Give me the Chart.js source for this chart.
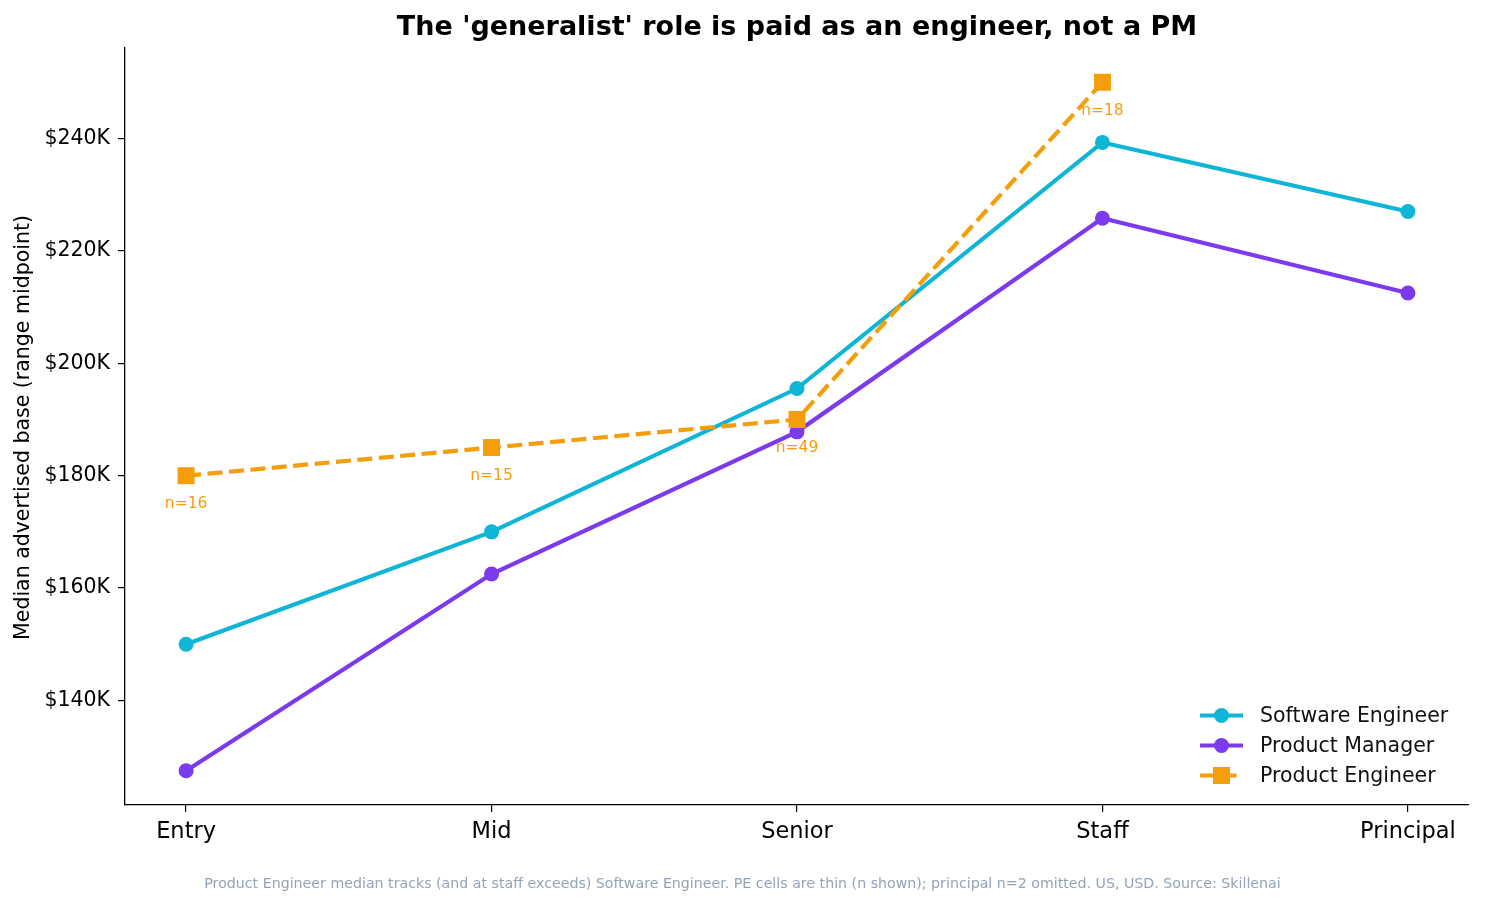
<!DOCTYPE html>
<html>
<head>
<meta charset="utf-8">
<script src="https://cdn.jsdelivr.net/npm/chart.js@4.4.1/dist/chart.umd.min.js"></script>
<style>
  html, body { margin: 0; padding: 0; background: #fff; }
  #wrap { width: 1485px; height: 906px; }
</style>
</head>
<body>
<div id="wrap"><canvas id="chart" width="1485" height="906"></canvas></div>
<script>
const levels = ['Entry', 'Mid', 'Senior', 'Staff', 'Principal'];
const softwareEngineer = [150000, 170000, 195500, 239300, 227000];
const productManager = [127500, 162500, 187800, 225800, 212500];
const productEngineer = [180000, 185000, 190000, 250000, null];
const productEngineerN = [16, 15, 49, 18, null];
const yTicks = [140000, 160000, 180000, 200000, 220000, 240000];

const FONT = '"DejaVu Sans", "Liberation Sans", sans-serif';
const colors = { se: '#0fb5d5', pm: '#7c3aed', pe: '#f59e0b' };

const toPoints = arr => arr.map((v, i) => ({ x: i, y: v }));

// title, y label, n= notes, legend, footnote
const decorations = {
  id: 'decorations',
  afterDatasetsDraw(chart) {
    const { ctx, scales } = chart;
    const x = scales.x, y = scales.y;

    // n= annotations under the Product Engineer markers
    ctx.save();
    ctx.fillStyle = colors.pe;
    ctx.font = '15.5px ' + FONT;
    ctx.textAlign = 'center';
    ctx.textBaseline = 'middle';
    productEngineerN.forEach((n, i) => {
      if (n == null) return;
      ctx.fillText('n=' + n, x.getPixelForValue(i), y.getPixelForValue(productEngineer[i]) + 28.5);
    });
    ctx.restore();

    // legend, lower right, no frame
    const items = [
      { label: 'Software Engineer', color: colors.se, dash: [], shape: 'circle' },
      { label: 'Product Manager', color: colors.pm, dash: [], shape: 'circle' },
      { label: 'Product Engineer', color: colors.pe, dash: [15, 6.5], shape: 'square' }
    ];
    ctx.save();
    items.forEach((it, k) => {
      const cy = 715.5 + k * 30;
      ctx.strokeStyle = it.color;
      ctx.fillStyle = it.color;
      ctx.lineWidth = 4.2;
      ctx.setLineDash(it.dash);
      ctx.beginPath();
      ctx.moveTo(1200, cy);
      ctx.lineTo(1243, cy);
      ctx.stroke();
      ctx.setLineDash([]);
      if (it.shape === 'circle') {
        ctx.beginPath();
        ctx.arc(1221.5, cy, 7.5, 0, Math.PI * 2);
        ctx.fill();
      } else {
        ctx.fillRect(1213, cy - 8.5, 17, 17);
      }
      ctx.fillStyle = '#111';
      ctx.font = '20.5px ' + FONT;
      ctx.textAlign = 'left';
      ctx.textBaseline = 'middle';
      ctx.fillText(it.label, 1260, cy + 1);
    });
    ctx.restore();
  },
  afterDraw(chart) {
    const { ctx, chartArea } = chart;
    ctx.save();
    ctx.fillStyle = '#000';
    ctx.font = 'bold 27px ' + FONT;
    ctx.textAlign = 'center';
    ctx.textBaseline = 'middle';
    ctx.fillText("The 'generalist' role is paid as an engineer, not a PM", (chartArea.left + chartArea.right) / 2, 27.5);

    // y axis title
    ctx.translate(24, (chartArea.top + chartArea.bottom) / 2 + 1);
    ctx.rotate(-Math.PI / 2);
    ctx.font = '20.5px ' + FONT;
    ctx.fillText('Median advertised base (range midpoint)', 0, 0);
    ctx.restore();

    // footnote
    ctx.save();
    ctx.fillStyle = '#94a3b8';
    ctx.font = '14.2px ' + FONT;
    ctx.textAlign = 'center';
    ctx.textBaseline = 'middle';
    ctx.fillText('Product Engineer median tracks (and at staff exceeds) Software Engineer. PE cells are thin (n shown); principal n=2 omitted. US, USD. Source: Skillenai', 742.5, 884, 1080);
    ctx.restore();
  }
};

new Chart(document.getElementById('chart'), {
  type: 'line',
  data: {
    datasets: [
      {
        label: 'Software Engineer',
        data: toPoints(softwareEngineer),
        borderColor: colors.se,
        backgroundColor: colors.se,
        borderWidth: 4.2,
        pointRadius: 7.5,
        pointStyle: 'circle',
        pointBorderWidth: 0,
        order: 3
      },
      {
        label: 'Product Manager',
        data: toPoints(productManager),
        borderColor: colors.pm,
        backgroundColor: colors.pm,
        borderWidth: 4.2,
        pointRadius: 7.5,
        pointStyle: 'circle',
        pointBorderWidth: 0,
        order: 2
      },
      {
        label: 'Product Engineer',
        data: toPoints(productEngineer),
        borderColor: colors.pe,
        backgroundColor: colors.pe,
        borderWidth: 4.2,
        borderDash: [15, 6.5],
        pointRadius: 12,
        pointStyle: 'rect',
        pointBorderWidth: 0,
        spanGaps: false,
        order: 1
      }
    ]
  },
  options: {
    responsive: false,
    animation: false,
    devicePixelRatio: 1,
    layout: { padding: { left: 0, right: 16, top: 48, bottom: 0 } },
    plugins: {
      legend: { display: false },
      title: { display: false },
      tooltip: { enabled: false }
    },
    scales: {
      x: {
        type: 'linear',
        min: -0.2,
        max: 4.2,
        afterBuildTicks: s => { s.ticks = levels.map((_, i) => ({ value: i })); },
        afterFit: s => { s.height = 101; },
        ticks: {
          color: '#000',
          font: { family: FONT, size: 22.5 },
          padding: 7,
          callback: v => levels[v]
        },
        grid: { display: true, drawOnChartArea: false, drawTicks: true, tickLength: 7, color: '#000', lineWidth: 1.2 },
        border: { display: true, color: '#000', width: 1.3 }
      },
      y: {
        type: 'linear',
        min: 121400,
        max: 256100,
        afterBuildTicks: s => { s.ticks = yTicks.map(v => ({ value: v })); },
        afterFit: s => { s.width = 125; },
        ticks: {
          color: '#000',
          font: { family: FONT, size: 20.5 },
          padding: 8,
          callback: v => '$' + Math.round(v / 1000) + 'K'
        },
        grid: { display: true, drawOnChartArea: false, drawTicks: true, tickLength: 7, color: '#000', lineWidth: 1.2 },
        border: { display: true, color: '#000', width: 1.3 }
      }
    }
  },
  plugins: [decorations]
});
</script>
</body>
</html>
